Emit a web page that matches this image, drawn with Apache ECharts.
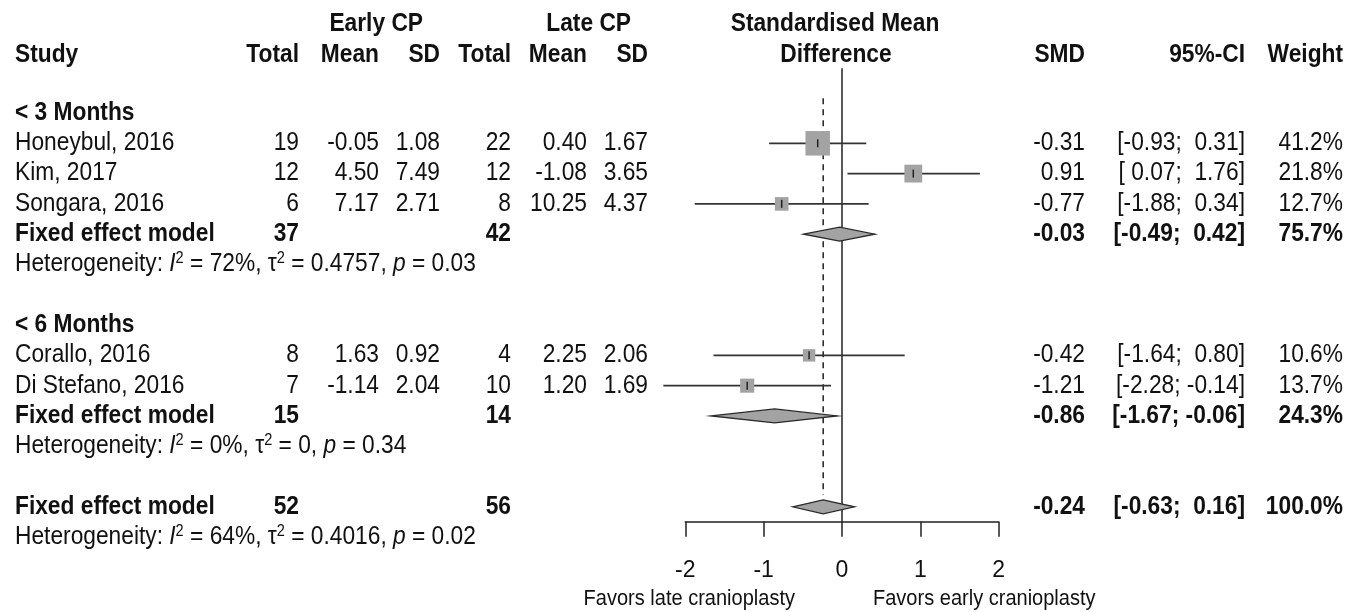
<!DOCTYPE html>
<html>
<head>
<meta charset="utf-8">
<script src="https://cdn.jsdelivr.net/npm/echarts@6/dist/echarts.min.js"></script>
<style>
html, body { margin: 0; padding: 0; background: #fff; }
#chart { width: 1360px; height: 612px; }
</style>
</head>
<body>
<div id="chart"></div>
<script>
// studies
var studyNames = ['Honeybul, 2016', 'Kim, 2017', 'Songara, 2016', 'Corallo, 2016', 'Di Stefano, 2016'];
var studyRows = [0, 1, 2, 7, 8];
var earlyTotal = ['19', '12', '6', '8', '7'];
var earlyMean = ['-0.05', '4.50', '7.17', '1.63', '-1.14'];
var earlySD = ['1.08', '7.49', '2.71', '0.92', '2.04'];
var lateTotal = ['22', '12', '8', '4', '10'];
var lateMean = ['0.40', '-1.08', '10.25', '2.25', '1.20'];
var lateSD = ['1.67', '3.65', '4.37', '2.06', '1.69'];
var smd = [-0.31, 0.91, -0.77, -0.42, -1.21];
var ciLow = [-0.93, 0.07, -1.88, -1.64, -2.28];
var ciHigh = [0.31, 1.76, 0.34, 0.80, -0.14];
var weight = [41.2, 21.8, 12.7, 10.6, 13.7];

// pooled rows (two subgroups + overall)
var pooledRows = [3, 9, 12];
var pooledEarlyTotal = ['37', '15', '52'];
var pooledLateTotal = ['42', '14', '56'];
var pooledSmd = [-0.03, -0.86, -0.24];
var pooledLow = [-0.49, -1.67, -0.63];
var pooledHigh = [0.42, -0.06, 0.16];
var pooledWeight = [75.7, 24.3, 100.0];

// heterogeneity
var hetRows = [4, 10, 13];
var hetI2 = ['72%', '0%', '64%'];
var hetTau2 = ['0.4757', '0', '0.4016'];
var hetP = ['0.03', '0.34', '0.02'];

var subgroupNames = ['< 3 Months', '< 6 Months'];
var subgroupRows = [-1, 6];

var overallSmd = -0.24;

var FONT = 'Liberation Sans, Arial, sans-serif';
var FS = 25;
var SX = 0.91;
var INK = '#111';
var GREY = '#a3a3a3';

function f2(v) { return v.toFixed(2); }
function ciText(lo, hi) {
    var a = (lo < 0 ? '' : ' ') + f2(lo);
    var b = (hi < 0 ? ' ' : '  ') + f2(hi);
    return '[' + a + ';' + b + ']';
}

// column anchors (pixels)
var col = { study: 15, eTot: 299, eMean: 379, eSD: 440, lTot: 511, lMean: 587, lSD: 648, smd: 1085, ci: 1245, w: 1343 };

var texts = [];
function addText(x, k, text, align, bold, size, rich) {
    texts.push({ x: x, k: k, text: text, align: align, bold: bold, size: size || FS, rich: rich });
}

// headers
var hTop = -3.94, hRow = -2.91;
addText(423, hTop, 'Early CP', 'right', true);
addText(631, hTop, 'Late CP', 'right', true);
addText(835, hTop, 'Standardised Mean', 'center', true);
addText(836, hRow, 'Difference', 'center', true);
addText(col.study, hRow, 'Study', 'left', true);
addText(col.eTot, hRow, 'Total', 'right', true);
addText(col.eMean, hRow, 'Mean', 'right', true);
addText(col.eSD, hRow, 'SD', 'right', true);
addText(col.lTot, hRow, 'Total', 'right', true);
addText(col.lMean, hRow, 'Mean', 'right', true);
addText(col.lSD, hRow, 'SD', 'right', true);
addText(col.smd, hRow, 'SMD', 'right', true);
addText(col.ci, hRow, '95%-CI', 'right', true);
addText(col.w, hRow, 'Weight', 'right', true);

subgroupNames.forEach(function (n, i) { addText(col.study, subgroupRows[i], n, 'left', true); });

studyNames.forEach(function (n, i) {
    var k = studyRows[i];
    addText(col.study, k, n, 'left', false);
    addText(col.eTot, k, earlyTotal[i], 'right', false);
    addText(col.eMean, k, earlyMean[i], 'right', false);
    addText(col.eSD, k, earlySD[i], 'right', false);
    addText(col.lTot, k, lateTotal[i], 'right', false);
    addText(col.lMean, k, lateMean[i], 'right', false);
    addText(col.lSD, k, lateSD[i], 'right', false);
    addText(col.smd, k, f2(smd[i]), 'right', false);
    addText(col.ci, k, ciText(ciLow[i], ciHigh[i]), 'right', false);
    addText(col.w, k, weight[i].toFixed(1) + '%', 'right', false);
});

pooledRows.forEach(function (k, i) {
    addText(col.study, k, 'Fixed effect model', 'left', true);
    addText(col.eTot, k, pooledEarlyTotal[i], 'right', true);
    addText(col.lTot, k, pooledLateTotal[i], 'right', true);
    addText(col.smd, k, f2(pooledSmd[i]), 'right', true);
    addText(col.ci, k, ciText(pooledLow[i], pooledHigh[i]), 'right', true);
    addText(col.w, k, pooledWeight[i].toFixed(1) + '%', 'right', true);
});

hetRows.forEach(function (k, i) {
    var s = 'Heterogeneity: {i|I}{s|2} = ' + hetI2[i] + ', \u03c4{s|2} = ' + hetTau2[i] + ', {i|p} = ' + hetP[i];
    addText(col.study, k, s, 'left', false, FS, true);
});

addText(795, 15.05, 'Favors late cranioplasty', 'right', false, 22);
addText(873, 15.05, 'Favors early cranioplasty', 'left', false, 22);

// forest marks
var marks = [];
studyNames.forEach(function (n, i) {
    marks.push({ kind: 'study', k: studyRows[i], est: smd[i], lo: ciLow[i], hi: ciHigh[i], w: weight[i] });
});
pooledRows.forEach(function (k, i) {
    marks.push({ kind: 'diamond', k: k, est: pooledSmd[i], lo: pooledLow[i], hi: pooledHigh[i] });
});
var maxW = Math.max.apply(null, weight);

var refLines = [
    { x: 0, k0: -2.48, k1: 12.49, dash: false },
    { x: overallSmd, k0: -1.49, k1: 11.6, dash: true }
];

var dom = document.getElementById('chart');
var chart = echarts.init(dom, null, { renderer: 'canvas' });

var option = {
    animation: false,
    backgroundColor: '#fff',
    grid: [
        { left: 0, top: 0, width: 1360, height: 612 },
        { left: 685.3, top: 0, width: 313.4, height: 521.7 }
    ],
    xAxis: [
        { gridIndex: 0, type: 'value', min: 0, max: 1360, show: false },
        {
            gridIndex: 1, type: 'value', min: -2, max: 2, interval: 1,
            splitLine: { show: false },
            axisLine: { show: true, onZero: false, lineStyle: { color: '#222', width: 1.5 } },
            axisTick: { show: true, inside: false, length: 15, lineStyle: { color: '#222', width: 1.5 } },
            axisLabel: { fontFamily: FONT, fontSize: 23, color: INK, margin: 37 }
        }
    ],
    yAxis: [
        { gridIndex: 0, type: 'value', min: -4.73, max: 15.47, inverse: true, show: false },
        { gridIndex: 1, type: 'value', min: -4.73, max: 12.49, inverse: true, show: false }
    ],
    series: [
        {
            type: 'custom',
            xAxisIndex: 1, yAxisIndex: 1,
            silent: true,
            z: 1,
            data: refLines.map(function (r, i) { return [r.x, r.k0, i]; }),
            renderItem: function (params, api) {
                var r = refLines[api.value(2)];
                var a = api.coord([r.x, r.k0]);
                var b = api.coord([r.x, r.k1]);
                return {
                    type: 'line',
                    shape: { x1: a[0], y1: a[1], x2: b[0], y2: b[1] },
                    style: { stroke: '#222', lineWidth: 1.5, lineDash: r.dash ? [6, 5] : null }
                };
            }
        },
        {
            type: 'custom',
            xAxisIndex: 1, yAxisIndex: 1,
            silent: true,
            clip: false,
            z: 2,
            data: marks.map(function (m, i) { return [m.est, m.k, i]; }),
            renderItem: function (params, api) {
                var m = marks[api.value(2)];
                var c = api.coord([m.est, m.k]);
                var l = api.coord([m.lo, m.k]);
                var r = api.coord([m.hi, m.k]);
                if (m.kind === 'study') {
                    var s = 24.5 * Math.sqrt(m.w / maxW);
                    return {
                        type: 'group',
                        children: [
                            { type: 'line', shape: { x1: l[0], y1: c[1], x2: r[0], y2: c[1] }, style: { stroke: '#333', lineWidth: 1.8 } },
                            { type: 'rect', shape: { x: c[0] - s / 2, y: c[1] - s / 2, width: s, height: s }, style: { fill: GREY } },
                            { type: 'line', shape: { x1: c[0], y1: c[1] - 4, x2: c[0], y2: c[1] + 4 }, style: { stroke: '#222', lineWidth: 1.5 } }
                        ]
                    };
                }
                return {
                    type: 'polygon',
                    shape: { points: [[l[0], c[1]], [c[0], c[1] - 7], [r[0], c[1]], [c[0], c[1] + 7]] },
                    style: { fill: GREY, stroke: '#2a2a2a', lineWidth: 1.3 }
                };
            }
        },
        {
            type: 'custom',
            xAxisIndex: 0, yAxisIndex: 0,
            silent: true,
            z: 3,
            data: texts.map(function (t, i) { return [t.x, t.k, i]; }),
            renderItem: function (params, api) {
                var t = texts[api.value(2)];
                var p = api.coord([t.x, t.k]);
                var style = {
                    text: t.text,
                    textAlign: t.align,
                    textVerticalAlign: 'middle',
                    align: t.align,
                    verticalAlign: 'middle',
                    fontFamily: FONT,
                    fontSize: t.size,
                    fontWeight: t.bold ? 'bold' : 'normal',
                    fill: INK
                };
                if (t.rich) {
                    style.rich = {
                        i: { fontFamily: FONT, fontSize: FS, fontStyle: 'italic', fill: INK, lineHeight: 28 },
                        s: { fontFamily: FONT, fontSize: 16, fill: INK, verticalAlign: 'top', lineHeight: 28 }
                    };
                    style.lineHeight = 28;
                }
                return { type: 'text', x: p[0], y: p[1], scaleX: SX, style: style };
            }
        }
    ]
};

chart.setOption(option);
</script>
</body>
</html>
